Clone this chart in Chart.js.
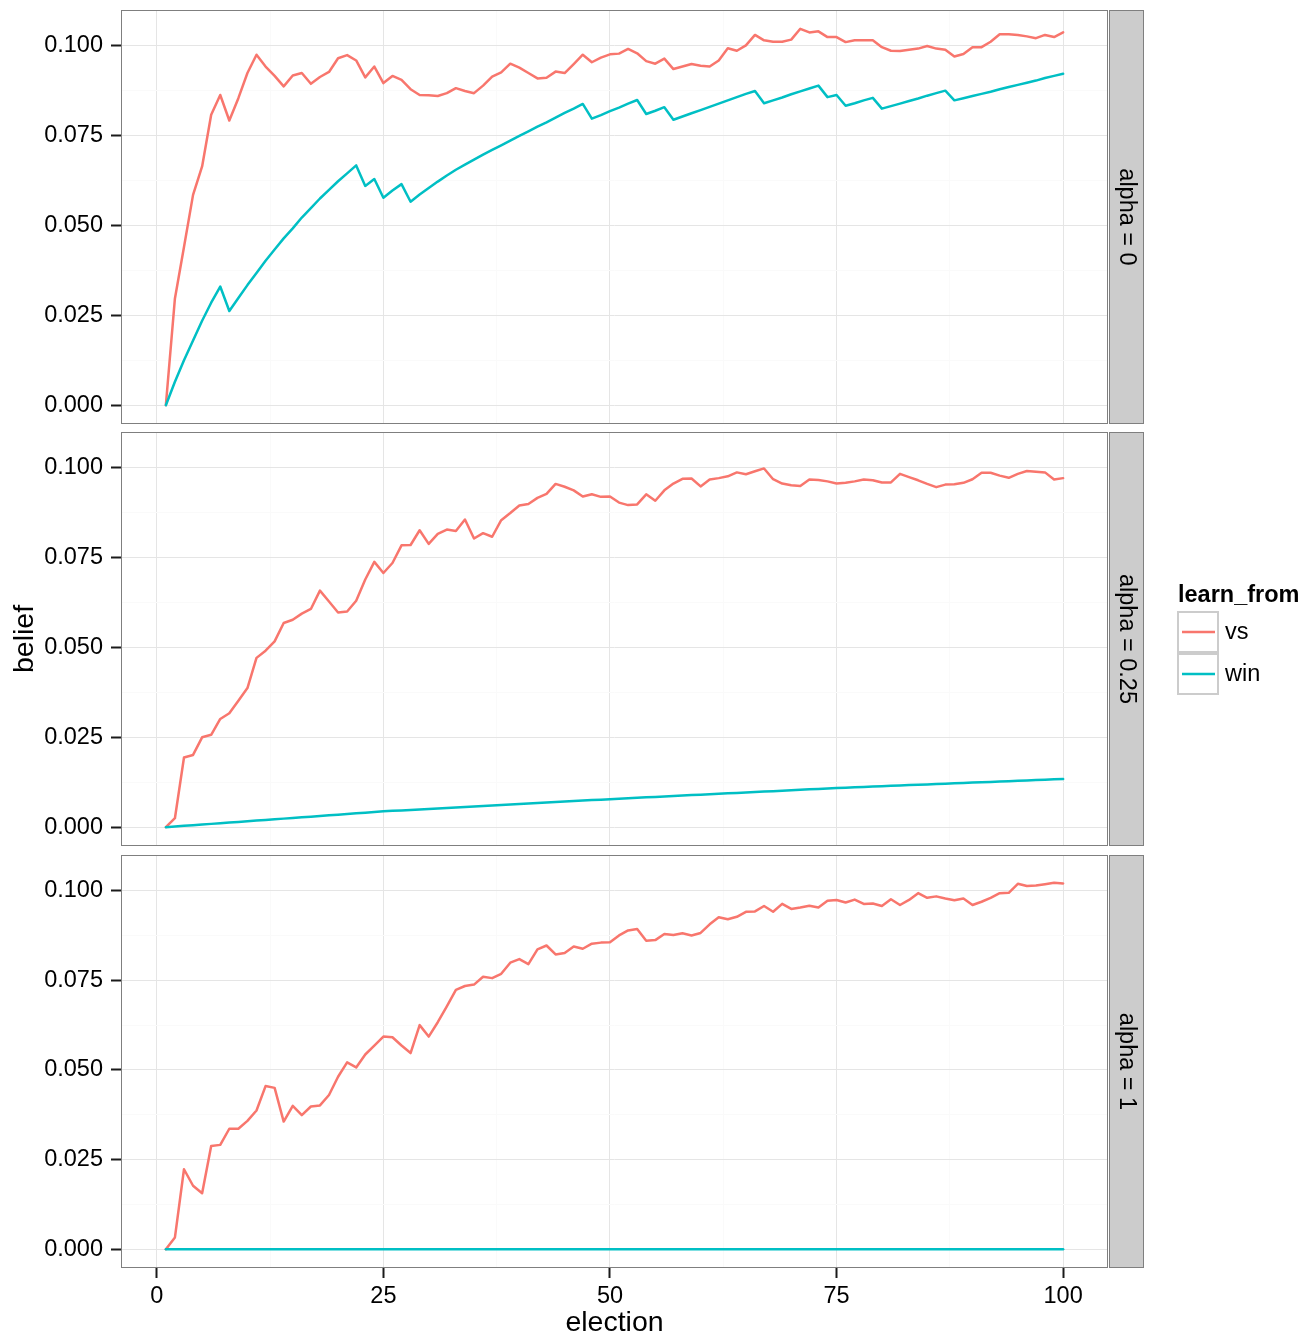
<!DOCTYPE html>
<html>
<head>
<meta charset="utf-8">
<script src="https://cdn.jsdelivr.net/npm/chart.js@4.4.0/dist/chart.umd.min.js"></script>
<style>
html,body{margin:0;padding:0;background:#ffffff;}
#wrap{position:relative;width:1306px;height:1339px;overflow:hidden;background:#fff;}
canvas{position:absolute;left:0;}
</style>
</head>
<body>
<div id="wrap">
<canvas id="c1" width="1306" height="430" style="top:0px"></canvas>
<canvas id="c2" width="1306" height="420" style="top:430px"></canvas>
<canvas id="c3" width="1306" height="489" style="top:850px"></canvas>
</div>
<script>
// ---------------- data ----------------
const elections = [1,2,3,4,5,6,7,8,9,10,11,12,13,14,15,16,17,18,19,20,21,22,23,24,25,26,27,28,29,30,31,32,33,34,35,36,37,38,39,40,41,42,43,44,45,46,47,48,49,50,51,52,53,54,55,56,57,58,59,60,61,62,63,64,65,66,67,68,69,70,71,72,73,74,75,76,77,78,79,80,81,82,83,84,85,86,87,88,89,90,91,92,93,94,95,96,97,98,99,100];

const facetLabels = ['alpha = 0', 'alpha = 0.25', 'alpha = 1'];
const seriesNames = ['vs', 'win'];
const seriesColors = ['#F8766D', '#00BFC4'];

const xMajorTicks = [0, 25, 50, 75, 100];
const xMinorTicks = [12.5, 37.5, 62.5, 87.5];
const yMajorTicks = [0, 0.025, 0.05, 0.075, 0.1];
const yMinorTicks = [0.0125, 0.0375, 0.0625, 0.0875];

const vsAlpha0 = [0,0.0297,0.0440,0.0585,0.0664,0.0808,0.0863,0.0792,0.0854,0.0924,
0.0975,0.0942,0.0916,0.0887,0.0917,0.0924,0.0894,0.0913,0.0927,0.0965,
0.0974,0.0959,0.0912,0.0942,0.0896,0.0916,0.0905,0.0879,0.0863,0.0862,
0.0860,0.0868,0.0882,0.0874,0.0868,0.0889,0.0914,0.0926,0.0950,0.0939,
0.0924,0.0909,0.0911,0.0928,0.0924,0.0949,0.0975,0.0954,0.0967,0.0976,
0.0978,0.0991,0.0979,0.0957,0.0950,0.0964,0.0935,0.0942,0.0949,0.0944,
0.0942,0.0959,0.0993,0.0986,0.1001,0.1030,0.1015,0.1011,0.1011,0.1017,
0.1047,0.1037,0.1040,0.1024,0.1024,0.1010,0.1015,0.1015,0.1015,0.0996,
0.0986,0.0985,0.0989,0.0992,0.0999,0.0992,0.0989,0.0970,0.0977,0.0996,
0.0996,0.1011,0.1032,0.1032,0.1030,0.1026,0.1021,0.1030,0.1024,0.1037];

const winAlpha0 = [0,0.0065,0.0125,0.0180,0.0235,0.0285,0.0330,0.0262,0.0298,0.0334,
0.0368,0.0402,0.0433,0.0464,0.0492,0.0522,0.0548,0.0575,0.0599,0.0623,
0.0645,0.0667,0.0610,0.0629,0.0577,0.0597,0.0615,0.0566,0.0586,0.0604,
0.0622,0.0639,0.0655,0.0669,0.0683,0.0697,0.0710,0.0723,0.0736,0.0749,
0.0762,0.0775,0.0787,0.0800,0.0813,0.0825,0.0838,0.0797,0.0807,0.0818,
0.0828,0.0839,0.0849,0.0810,0.0819,0.0829,0.0794,0.0803,0.0812,0.0821,
0.0830,0.0839,0.0848,0.0857,0.0866,0.0874,0.0840,0.0848,0.0856,0.0865,
0.0873,0.0881,0.0889,0.0857,0.0863,0.0833,0.0840,0.0848,0.0855,0.0825,
0.0832,0.0839,0.0846,0.0853,0.0861,0.0868,0.0875,0.0848,0.0854,0.0860,
0.0866,0.0872,0.0879,0.0885,0.0891,0.0897,0.0903,0.0910,0.0916,0.0922];

const vsAlpha025 = [0,0.0025,0.0194,0.0201,0.0250,0.0257,0.0301,0.0317,0.0352,0.0387,
0.0471,0.0491,0.0517,0.0568,0.0577,0.0594,0.0607,0.0658,0.0628,0.0597,
0.0600,0.0630,0.0689,0.0738,0.0707,0.0735,0.0784,0.0785,0.0826,0.0788,
0.0816,0.0828,0.0824,0.0856,0.0803,0.0818,0.0808,0.0854,0.0874,0.0895,
0.0899,0.0916,0.0927,0.0955,0.0947,0.0937,0.0920,0.0926,0.0919,0.0920,
0.0903,0.0896,0.0898,0.0926,0.0908,0.0937,0.0956,0.0969,0.0970,0.0948,
0.0967,0.0971,0.0976,0.0987,0.0982,0.0990,0.0998,0.0968,0.0956,0.0951,
0.0949,0.0967,0.0966,0.0962,0.0956,0.0958,0.0962,0.0967,0.0965,0.0959,
0.0959,0.0983,0.0974,0.0965,0.0955,0.0946,0.0953,0.0954,0.0958,0.0968,
0.0986,0.0986,0.0978,0.0972,0.0983,0.0991,0.0989,0.0987,0.0967,0.0971];

const winAlpha025 = [0,0.00018,0.00037,0.00055,0.00073,0.00092,0.00110,0.00128,0.00147,0.00165,
0.00183,0.00202,0.00220,0.00238,0.00257,0.00275,0.00293,0.00312,0.00330,0.00348,
0.00367,0.00385,0.00403,0.00422,0.00440,0.00454,0.00467,0.00481,0.00494,0.00508,
0.00522,0.00535,0.00549,0.00562,0.00576,0.00590,0.00603,0.00617,0.00630,0.00644,
0.00658,0.00671,0.00685,0.00698,0.00712,0.00726,0.00739,0.00753,0.00766,0.00780,
0.00792,0.00805,0.00817,0.00830,0.00842,0.00854,0.00867,0.00879,0.00892,0.00904,
0.00916,0.00929,0.00941,0.00954,0.00966,0.00978,0.00991,0.01003,0.01016,0.01028,
0.01040,0.01053,0.01065,0.01078,0.01090,0.01100,0.01110,0.01120,0.01130,0.01140,
0.01150,0.01160,0.01170,0.01180,0.01190,0.01200,0.01210,0.01220,0.01230,0.01240,
0.01250,0.01260,0.01270,0.01280,0.01290,0.01300,0.01310,0.01320,0.01330,0.01340];

const vsAlpha1 = [0,0.0033,0.0223,0.0177,0.0156,0.0288,0.0291,0.0336,0.0336,0.0358,
0.0387,0.0455,0.0450,0.0356,0.0400,0.0374,0.0398,0.0401,0.0430,0.0481,
0.0521,0.0507,0.0543,0.0568,0.0593,0.0591,0.0568,0.0547,0.0625,0.0593,
0.0633,0.0677,0.0723,0.0734,0.0738,0.0760,0.0756,0.0768,0.0799,0.0809,
0.0795,0.0836,0.0847,0.0822,0.0826,0.0844,0.0838,0.0852,0.0855,0.0856,
0.0875,0.0889,0.0893,0.0860,0.0862,0.0879,0.0876,0.0881,0.0875,0.0882,
0.0906,0.0926,0.0920,0.0927,0.0941,0.0942,0.0957,0.0941,0.0963,0.0949,
0.0953,0.0958,0.0953,0.0972,0.0974,0.0967,0.0975,0.0963,0.0964,0.0957,
0.0976,0.0960,0.0974,0.0993,0.0980,0.0984,0.0978,0.0973,0.0978,0.0960,
0.0969,0.0980,0.0993,0.0994,0.1019,0.1013,0.1014,0.1018,0.1022,0.1020];

const winAlpha1 = [0,0,0,0,0,0,0,0,0,0,0,0,0,0,0,0,0,0,0,0,
0,0,0,0,0,0,0,0,0,0,0,0,0,0,0,0,0,0,0,0,
0,0,0,0,0,0,0,0,0,0,0,0,0,0,0,0,0,0,0,0,
0,0,0,0,0,0,0,0,0,0,0,0,0,0,0,0,0,0,0,0,
0,0,0,0,0,0,0,0,0,0,0,0,0,0,0,0,0,0,0,0];

// ---------------- styling ----------------
const FONT = '"Liberation Sans", Arial, Helvetica, sans-serif';
Chart.defaults.font.family = FONT;
Chart.defaults.color = '#000';

const allVals = [].concat(vsAlpha0, winAlpha0, vsAlpha025, winAlpha025, vsAlpha1, winAlpha1);
const yDataMax = Math.max.apply(null, allVals), yDataMin = Math.min.apply(null, allVals);
const yPad = (yDataMax - yDataMin) * 0.05;
const xDataMin = elections[0], xDataMax = elections[elections.length - 1];
const xPad = (xDataMax - xDataMin) * 0.05;

const isIn = (arr, v) => arr.some(t => Math.abs(t - v) < 1e-9);
const MAJOR = '#E5E5E5', MINOR = '#FAFAFA';

const decor = {
  id: 'decor',
  afterDraw(chart, args, o) {
    const ctx = chart.ctx, a = chart.chartArea;
    ctx.save();
    // panel border
    ctx.strokeStyle = '#7F7F7F';
    ctx.lineWidth = 1;
    ctx.strokeRect(a.left + 0.5, a.top + 0.5, a.right - a.left - 1, a.bottom - a.top - 1);
    // strip
    const sx = a.right + 1, sw = 35;
    ctx.fillStyle = '#CCCCCC';
    ctx.fillRect(sx, a.top, sw, a.bottom - a.top);
    ctx.strokeRect(sx + 0.5, a.top + 0.5, sw - 1, a.bottom - a.top - 1);
    ctx.translate(sx + sw / 2, (a.top + a.bottom) / 2);
    ctx.rotate(Math.PI / 2);
    ctx.fillStyle = '#000';
    ctx.font = '23.5px ' + FONT;
    ctx.textAlign = 'center';
    ctx.textBaseline = 'middle';
    ctx.fillText(o.label, 0, 0);
    ctx.restore();

    if (o.legend) {
      const off = o.canvasTop;
      ctx.save();
      ctx.fillStyle = '#000';
      ctx.font = 'bold 23.5px ' + FONT;
      ctx.textAlign = 'left';
      ctx.textBaseline = 'alphabetic';
      ctx.fillText('learn_from', 1178, 602 - off);
      const keyTop = [611, 653];
      for (let i = 0; i < seriesNames.length; i++) {
        const ky = keyTop[i] - off;
        ctx.fillStyle = '#fff';
        ctx.fillRect(1177, ky, 42, 42);
        ctx.strokeStyle = '#CCCCCC';
        ctx.lineWidth = 2;
        ctx.strokeRect(1178, ky + 1, 40, 40);
        ctx.strokeStyle = seriesColors[i];
        ctx.lineWidth = 2.5;
        ctx.beginPath();
        ctx.moveTo(1182, ky + 21);
        ctx.lineTo(1215, ky + 21);
        ctx.stroke();
        ctx.fillStyle = '#000';
        ctx.font = '23.5px ' + FONT;
        ctx.textBaseline = 'middle';
        ctx.fillText(seriesNames[i], 1225, ky + 22);
      }
      ctx.restore();
    }
  }
};

function zeroPad(ax) {
  ax.paddingTop = 0; ax.paddingBottom = 0; ax.paddingLeft = 0; ax.paddingRight = 0;
}

function makePanel(id, vsVals, winVals, cfg) {
  const pts = vals => elections.map((e, i) => ({x: e, y: vals[i]}));
  const xTicksAll = xMajorTicks.concat(xMinorTicks).sort((a, b) => a - b);
  const yTicksAll = yMajorTicks.concat(yMinorTicks).sort((a, b) => a - b);
  return new Chart(document.getElementById(id), {
    type: 'line',
    data: {
      datasets: [
        {label: seriesNames[0], data: pts(vsVals), borderColor: seriesColors[0], borderWidth: 2.5, pointRadius: 0, tension: 0, order: 1, borderJoinStyle: 'round', borderCapStyle: 'round'},
        {label: seriesNames[1], data: pts(winVals), borderColor: seriesColors[1], borderWidth: 2.5, pointRadius: 0, tension: 0, order: 0, borderJoinStyle: 'round', borderCapStyle: 'round'}
      ]
    },
    plugins: [decor],
    options: {
      responsive: false,
      animation: false,
      events: [],
      layout: {padding: {left: 0, right: 198, top: cfg.padTop, bottom: cfg.padBottom}},
      plugins: {
        legend: {display: false},
        tooltip: {enabled: false},
        decor: {label: cfg.label, legend: !!cfg.legend, canvasTop: cfg.canvasTop}
      },
      scales: {
        x: {
          type: 'linear',
          min: xDataMin - xPad,
          max: xDataMax + xPad,
          afterBuildTicks: ax => { ax.ticks = xTicksAll.map(v => ({value: v})); },
          afterFit: ax => { ax.height = cfg.showX ? 71 : 0; zeroPad(ax); },
          border: {display: false},
          grid: {
            color: c => isIn(xMajorTicks, c.tick.value) ? MAJOR : MINOR,
            lineWidth: 1,
            drawTicks: !!cfg.showX,
            tickLength: 10,
            tickColor: c => isIn(xMajorTicks, c.tick.value) ? '#1a1a1a' : 'rgba(0,0,0,0)',
            tickWidth: 2
          },
          ticks: {
            display: !!cfg.showX,
            autoSkip: false,
            maxRotation: 0,
            padding: 4,
            color: '#000',
            font: {size: 23.5},
            callback: v => isIn(xMajorTicks, v) ? String(v) : ''
          },
          title: {
            display: !!cfg.showX,
            text: 'election',
            color: '#000',
            font: {size: 28.5, lineHeight: 1.1},
            padding: {top: 0, bottom: 0}
          }
        },
        y: {
          type: 'linear',
          min: yDataMin - yPad,
          max: yDataMax + yPad,
          afterBuildTicks: ax => { ax.ticks = yTicksAll.map(v => ({value: v})); },
          afterFit: ax => { ax.width = 121; zeroPad(ax); },
          border: {display: false},
          grid: {
            color: c => isIn(yMajorTicks, c.tick.value) ? MAJOR : MINOR,
            lineWidth: 1,
            drawTicks: true,
            tickLength: 10,
            tickColor: c => isIn(yMajorTicks, c.tick.value) ? '#1a1a1a' : 'rgba(0,0,0,0)',
            tickWidth: 2
          },
          ticks: {
            autoSkip: false,
            padding: 8,
            color: '#000',
            font: {size: 23.5},
            callback: v => isIn(yMajorTicks, v) ? v.toFixed(3) : ''
          },
          title: {
            display: !!cfg.yTitle,
            text: 'belief',
            color: '#000',
            font: {size: 28.5},
            padding: {top: 8, bottom: 0}
          }
        }
      }
    }
  });
}

makePanel('c1', vsAlpha0, winAlpha0, {label: facetLabels[0], padTop: 10, padBottom: 6, canvasTop: 0});
makePanel('c2', vsAlpha025, winAlpha025, {label: facetLabels[1], padTop: 2, padBottom: 4, canvasTop: 430, yTitle: true, legend: true});
makePanel('c3', vsAlpha1, winAlpha1, {label: facetLabels[2], padTop: 5, padBottom: 0, canvasTop: 850, showX: true});
</script>
</body>
</html>
